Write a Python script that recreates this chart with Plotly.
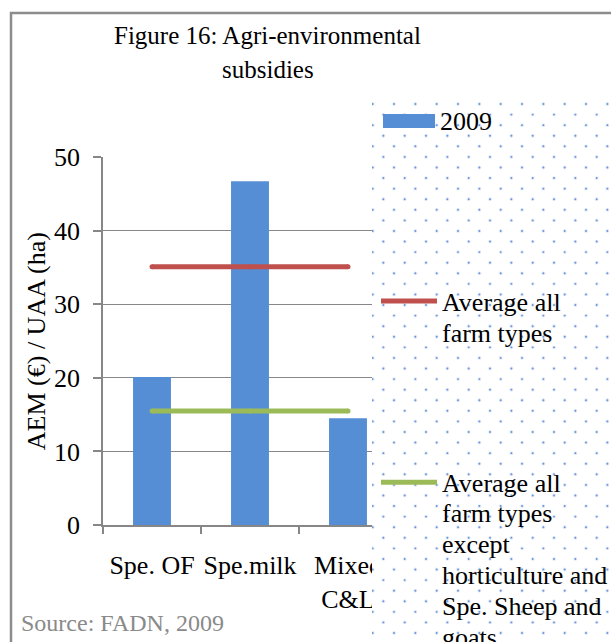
import base64
import plotly.graph_objects as go

# ---- data -------------------------------------------------------------
categories = ["Spe. OF", "Spe.milk", "Mixed C&L"]
category_labels = ["Spe. OF", "Spe.milk", "Mixed<br>C&L"]
aem_2009 = [20.1, 46.7, 14.5]            # AEM (€) per UAA (ha), 2009
avg_all_types = 35.1                      # average over all farm types
avg_excl_hort_sheep = 15.5                # average excl. horticulture & sheep/goats
y_ticks = [0, 10, 20, 30, 40, 50]

series_names = ["2009", "Average all farm types",
                "Average all farm types except horticulture and Spe. Sheep and goats"]

# ---- page geometry (pixels) --------------------------------------------
W, H = 611, 642
L, R, T, B = 103, 397, 157, 525          # plot area


def px(x):
    return (x - L) / (R - L)


def py(y):
    return (B - y) / (B - T)


SERIF = "Liberation Serif"
BLUE, RED, GREEN = "#558ED5", "#C0504D", "#9BBB59"
GRID = "#878787"

fig = go.Figure()
fig.add_trace(go.Bar(x=categories, y=aem_2009, name=series_names[0],
                     marker=dict(color=BLUE, line=dict(width=0))))
fig.add_trace(go.Scatter(x=categories, y=[avg_all_types] * len(categories),
                         name=series_names[1], mode="lines+markers",
                         line=dict(color=RED, width=5),
                         marker=dict(color=RED, size=5)))
fig.add_trace(go.Scatter(x=categories, y=[avg_excl_hort_sheep] * len(categories),
                         name=series_names[2], mode="lines+markers",
                         line=dict(color=GREEN, width=5),
                         marker=dict(color=GREEN, size=5)))

# ---- legend panel: white box with a dotted fill --------------------------
box_x0, box_y0 = 372, 101
bw, bh = W + 2 - box_x0, H + 2 - box_y0
sx, sy = 32 / 3, 10.58
parts = [f'<svg xmlns="http://www.w3.org/2000/svg" width="{bw}" height="{bh}" '
         f'viewBox="0 0 {bw} {bh}">',
         f'<rect width="{bw}" height="{bh}" fill="#ffffff"/>']
row = 0
while 3 + row * sy < bh + 3:
    cy = 3 + row * sy
    cx = 0.7 + (sx if row % 2 else 0)
    while cx < bw + 3:
        parts.append(f'<circle cx="{cx:.2f}" cy="{cy:.2f}" r="1.9" fill="#A9C2EA" fill-opacity="0.35"/>')
        parts.append(f'<circle cx="{cx:.2f}" cy="{cy:.2f}" r="0.95" fill="#6A94D6"/>')
        cx += 2 * sx
    row += 1
parts.append("</svg>")
svg_uri = "data:image/svg+xml;base64," + base64.b64encode("".join(parts).encode()).decode()

fig.add_layout_image(dict(source=svg_uri, xref="paper", yref="paper",
                          x=px(box_x0), y=py(box_y0),
                          sizex=bw / (R - L), sizey=bh / (B - T),
                          xanchor="left", yanchor="top", sizing="stretch",
                          layer="above"))

shapes = [
    # chart frame
    dict(type="rect", xref="paper", yref="paper", layer="below",
         x0=px(11), x1=px(640), y0=py(13), y1=py(670),
         line=dict(color="#8C8C8C", width=2.5), fillcolor="rgba(0,0,0,0)"),
    # legend keys
    dict(type="rect", xref="paper", yref="paper", layer="above",
         x0=px(383), x1=px(435), y0=py(114), y1=py(128),
         line=dict(width=0), fillcolor=BLUE),
    dict(type="line", xref="paper", yref="paper", layer="above",
         x0=px(381), x1=px(437), y0=py(301), y1=py(301),
         line=dict(color=RED, width=5)),
    dict(type="line", xref="paper", yref="paper", layer="above",
         x0=px(381), x1=px(437), y0=py(482.3), y1=py(482.3),
         line=dict(color=GREEN, width=5)),
]


def text(s, x, y, size=26, color="black", xanchor="left", angle=0):
    return dict(text=s, xref="paper", yref="paper", x=px(x), y=py(y),
                xanchor=xanchor, yanchor="middle", showarrow=False,
                textangle=angle, borderpad=0, borderwidth=0,
                font=dict(family=SERIF, size=size, color=color))


annotations = [
    text("Figure 16: Agri-environmental", 267.5, 35.9, size=25, xanchor="center"),
    text("subsidies", 267.5, 69.9, size=25, xanchor="center"),
    text("AEM (€) / UAA (ha)", 36.2, 341, angle=-90, xanchor="center"),
    text("Source: FADN, 2009", 21, 622.6, size=24, color="#8A8A8A"),
    text("2009", 440, 121.2),
]
legend_lines = [
    (["Average all", "farm types"], 302.2),
    (["Average all", "farm types", "except", "horticulture and",
      "Spe. Sheep and", "goats"], 483.0),
]
for lines, y0 in legend_lines:
    for i, s in enumerate(lines):
        annotations.append(text(s, 442, y0 + i * 30.9))

fig.update_layout(
    width=W, height=H,
    margin=dict(l=L, r=W - R, t=T, b=H - B, pad=0, autoexpand=False),
    paper_bgcolor="white", plot_bgcolor="white",
    showlegend=False, bargap=0.613,
    shapes=shapes, annotations=annotations,
    xaxis=dict(type="category", range=[-0.5, 2.5], tickvals=categories,
               ticktext=category_labels, tickson="boundaries", tickangle=0,
               ticks="outside", ticklen=7, tickwidth=1.5, tickcolor=GRID,
               showline=True, linecolor=GRID, linewidth=1.5, showgrid=False,
               tickfont=dict(family=SERIF, size=26, color="black"),
               ticklabelstandoff=16, fixedrange=True),
    yaxis=dict(range=[0, 50], tickvals=y_ticks, ticks="outside", ticklen=8,
               tickwidth=1.5, tickcolor=GRID, showline=True, linecolor=GRID,
               linewidth=1.5, showgrid=True, gridcolor=GRID, gridwidth=1,
               zeroline=False,
               tickfont=dict(family=SERIF, size=26, color="black"),
               ticklabelstandoff=8, fixedrange=True),
)

fig.write_html("out.html", config={"displayModeBar": False})
